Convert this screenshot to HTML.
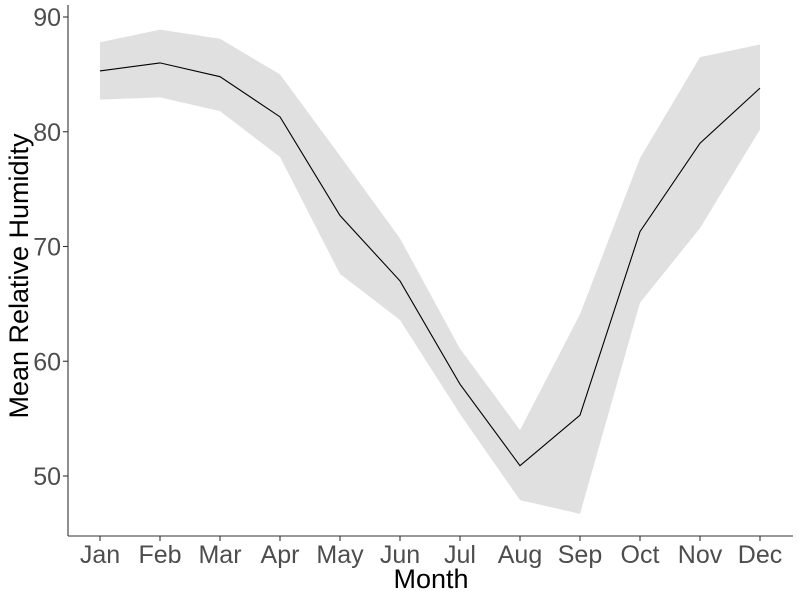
<!DOCTYPE html>
<html><head><meta charset="utf-8"><style>
html,body{margin:0;padding:0;background:#fff;}
svg text{font-family:"Liberation Sans",sans-serif;}
</style></head><body>
<svg id="chart" width="800" height="600" xmlns="http://www.w3.org/2000/svg">
<g id="plot"></g>
</svg>
<script>
const months=["Jan","Feb","Mar","Apr","May","Jun","Jul","Aug","Sep","Oct","Nov","Dec"];
const meanVals=[85.3,86.0,84.8,81.3,72.7,67.0,58.0,50.9,55.3,71.3,79.0,83.8];
const upperVals=[87.8,88.9,88.1,85.0,77.9,70.7,61.1,54.0,64.1,77.7,86.5,87.6];
const lowerVals=[82.8,83.0,81.8,77.8,67.6,63.6,55.4,47.9,46.7,65.1,71.6,80.2];
const yTicks=[50,60,70,80,90];
const NS="http://www.w3.org/2000/svg";
const g=document.getElementById('plot');
function xs(i){return 100+i*60;}
function ys(v){return 476-(v-50)*11.475;}
function mk(t,a,p){const e=document.createElementNS(NS,t);for(const k in a)e.setAttribute(k,a[k]);(p||g).appendChild(e);return e;}
let pts=months.map((m,i)=>xs(i)+","+ys(upperVals[i]));
for(let i=months.length-1;i>=0;i--)pts.push(xs(i)+","+ys(lowerVals[i]));
const band=mk('polygon',{points:pts.join(" "),fill:"#e0e0e0"});


const line=mk('polyline',{points:months.map((m,i)=>xs(i)+","+ys(meanVals[i])).join(" "),fill:"none",stroke:"#000","stroke-width":1.1});


const ya=mk('line',{x1:68,y1:5,x2:68,y2:536,stroke:"#333","stroke-width":1.1});


const xa=mk('line',{x1:68,y1:536,x2:793,y2:536,stroke:"#333","stroke-width":1.1});


yTicks.forEach(v=>{
 mk('line',{x1:63,x2:68,y1:ys(v),y2:ys(v),stroke:"#333","stroke-width":1.1});
 const t=mk('text',{x:61,y:ys(v)+9,"text-anchor":"end","font-size":25,fill:"#4d4d4d"});
 t.textContent=v;
 
 
});
months.forEach((m,i)=>{
 mk('line',{x1:xs(i),x2:xs(i),y1:536,y2:541,stroke:"#333","stroke-width":1.1});
 const t=mk('text',{x:xs(i),y:563,"text-anchor":"middle","font-size":25,fill:"#4d4d4d"});
 t.textContent=m;
 
 
});
const xt=mk('text',{x:431,y:588,"text-anchor":"middle","font-size":27,fill:"#000"});
xt.textContent="Month";


const yt=mk('text',{x:0,y:0,"text-anchor":"middle","font-size":27,fill:"#000",transform:"translate(28,276) rotate(-90)"});
yt.textContent="Mean Relative Humidity";


</script>
</body></html>
